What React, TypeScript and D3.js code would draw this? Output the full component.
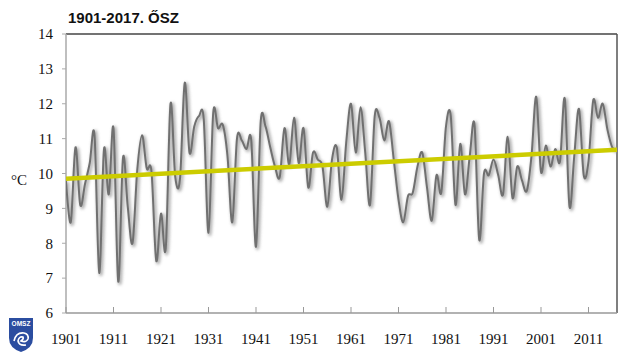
import React from "react";
import * as d3 from "d3";

const title = "1901-2017. ŐSZ";
const startYear = 1901;
const tempValues = [
  9.8, 8.6, 10.75, 9.1, 9.7, 10.3, 11.1, 7.15, 10.7, 9.4,
  11.3, 6.9, 10.45, 9.05, 8.0, 10.1, 11.1, 10.15, 10.05, 7.5,
  8.85, 7.85, 12.0, 9.9, 9.85, 12.6, 10.6, 11.35, 11.65, 11.55,
  8.3, 11.75, 11.3, 11.4, 10.5, 8.6, 11.0, 10.95, 10.7, 10.95,
  7.9, 11.5, 11.35, 10.75, 10.2, 9.9, 11.3, 10.25, 11.6, 10.3,
  11.3, 9.6, 10.6, 10.4, 10.2, 9.05, 10.4, 10.75, 9.25, 10.9,
  12.0, 10.6, 11.9, 10.6, 9.1, 11.65, 11.6, 10.95, 11.5, 10.4,
  9.25, 8.6, 9.35, 9.45, 10.2, 10.6, 9.6, 8.65, 9.95, 9.45,
  11.35, 11.65, 9.1, 10.85, 9.4, 10.5, 11.4, 8.1, 10.0, 9.95,
  10.4, 9.95, 9.4, 11.05, 9.3, 10.2, 9.8, 9.5, 10.5, 12.2,
  10.05, 10.8, 10.2, 10.7, 10.35, 12.15, 9.05, 10.5, 11.85, 9.95,
  10.35, 12.1, 11.6, 12.0, 11.25, 10.75, 10.68,
];
const years = tempValues.map((_, i) => startYear + i);
const trendYears = [1901, 2017];
const trendValues = [9.85, 10.68];
const xTickYears = [1901, 1911, 1921, 1931, 1941, 1951, 1961, 1971, 1981, 1991, 2001, 2011];
const yTicks = [6, 7, 8, 9, 10, 11, 12, 13, 14];
const yUnit = "°C";

export default function App() {
  const left = 66, right = 617, top = 34, bottom = 313;
  const x = d3.scaleLinear().domain([1901, 2017]).range([left, right]);
  const y = d3.scaleLinear().domain([6, 14]).range([bottom, top]);
  const pts: [number, number][] = years.map((yr, i) => [yr, tempValues[i]]);
  const line = d3
    .line<[number, number]>()
    .x((d) => x(d[0]))
    .y((d) => y(d[1]))
    .curve(d3.curveCatmullRom.alpha(0));
  const d = line(pts) || "";
  const trendD =
    d3
      .line<[number, number]>()
      .x((p) => x(p[0]))
      .y((p) => y(p[1]))(trendYears.map((yr, i) => [yr, trendValues[i]])) || "";

  return (
    <svg
      width={640}
      height={356}
      style={{ position: "absolute", left: 0, top: 0, background: "#fff" }}
    >
      <defs>
        <filter id="blur" x="-5%" y="-10%" width="110%" height="120%">
          <feGaussianBlur stdDeviation="1.6" />
        </filter>
        <clipPath id="plot">
          <rect x={left} y={top} width={right - left} height={bottom - top} />
        </clipPath>
      </defs>
      <rect x={0} y={0} width={640} height={356} fill="#fff" />
      <text
        x={68}
        y={22.5}
        fontFamily="'Liberation Sans', Arial, sans-serif"
        fontWeight="bold"
        fontSize={15}
        fill="#111"
      >
        {title}
      </text>

      {/* axes frame */}
      <line x1={left} x2={right} y1={top} y2={top} stroke="#444" strokeWidth={1.5} />
      <line x1={right} x2={right} y1={top} y2={bottom} stroke="#555" strokeWidth={1.5} />
      <line x1={left} x2={left} y1={top} y2={bottom} stroke="#aaa" strokeWidth={1.5} />
      <line x1={left} x2={right} y1={bottom} y2={bottom} stroke="#999" strokeWidth={1.5} />

      {yTicks.map((t) => (
        <g key={t}>
          <line x1={left - 4} x2={left} y1={y(t)} y2={y(t)} stroke="#aaa" strokeWidth={1} />
          <text
            x={53}
            y={y(t)}
            dy="0.35em"
            textAnchor="end"
            fontFamily="'Liberation Serif', 'Times New Roman', serif"
            fontSize={15}
            fill="#111"
          >
            {t}
          </text>
        </g>
      ))}
      {xTickYears.map((t) => (
        <g key={t}>
          <line x1={x(t)} x2={x(t)} y1={bottom - 6} y2={bottom} stroke="#999" strokeWidth={1} />
          <text
            x={x(t)}
            y={344}
            textAnchor="middle"
            fontFamily="'Liberation Serif', 'Times New Roman', serif"
            fontSize={15}
            fill="#111"
          >
            {t}
          </text>
        </g>
      ))}
      <text
        x={19}
        y={180}
        dy="0.35em"
        textAnchor="middle"
        fontFamily="'Liberation Serif', 'Times New Roman', serif"
        fontSize={15}
        fill="#111"
      >
        {yUnit}
      </text>

      <g clipPath="url(#plot)">
        <path
          d={d}
          fill="none"
          stroke="#9a9a9a"
          strokeWidth={3.5}
          opacity={0.75}
          filter="url(#blur)"
          transform="translate(1.5,1.5)"
        />
        <path d={d} fill="none" stroke="#707070" strokeWidth={2} strokeLinejoin="round" />
        <path d={trendD} fill="none" stroke="#cccc00" strokeWidth={4.5} />
      </g>

      {/* OMSZ logo */}
      <g>
        <path
          d="M9,318 L33,318 L33,338 Q33,348 21,352 Q9,348 9,338 Z"
          fill="#2b4da0"
        />
        <text
          x={21}
          y={326}
          textAnchor="middle"
          fontFamily="'Liberation Sans', Arial, sans-serif"
          fontWeight="bold"
          fontSize={6.5}
          fill="#fff"
        >
          OMSZ
        </text>
        <path
          d="M14,341 Q16,332 24,333 Q29,334 28,339 Q26,343 21,341 Q24,339 23,337 Q19,336 18,341 Q19,346 26,345"
          fill="none"
          stroke="#fff"
          strokeWidth={1.6}
        />
      </g>
    </svg>
  );
}
